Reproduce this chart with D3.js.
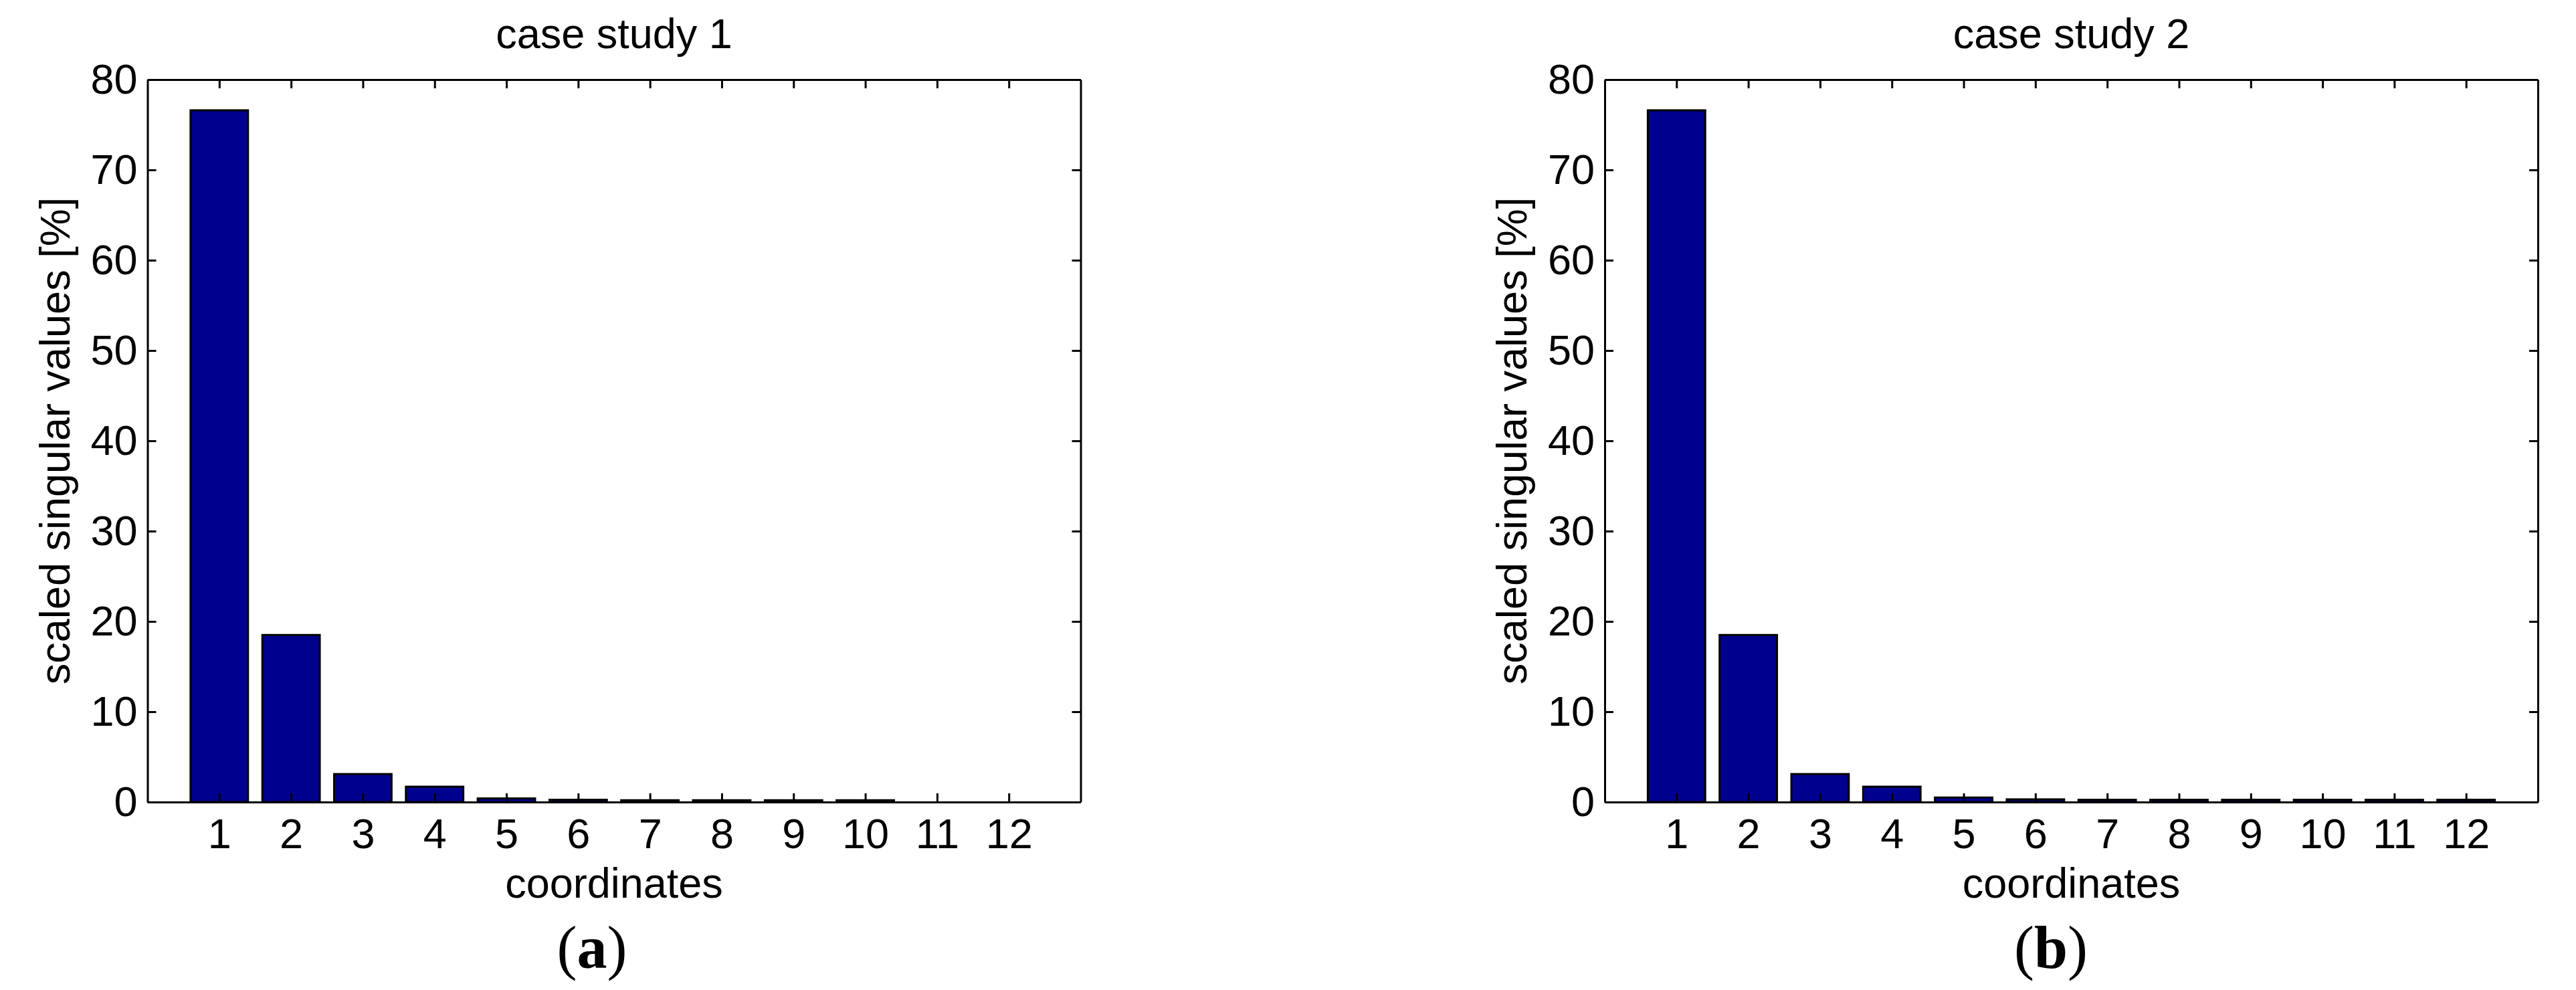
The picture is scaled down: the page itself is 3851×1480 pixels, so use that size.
<!DOCTYPE html>
<html>
<head>
    <meta charset="utf-8">
    <script src="https://d3js.org/d3.v7.min.js"></script>
    <style>
        body { margin: 0; background: #fff; }
        text { font-family: "Liberation Sans", Arial, sans-serif; fill: #000; }
        .panel-letter { font-family: "Liberation Serif", "Times New Roman", serif; }
    </style>
</head>
<body>
<script type="text/javascript">
    "use strict";

    // data
    var coordinates = [1, 2, 3, 4, 5, 6, 7, 8, 9, 10, 11, 12];
    var caseStudy1 = [76.6, 18.5, 3.1, 1.7, 0.4, 0.25, 0.2, 0.2, 0.2, 0.2, 0, 0];
    var caseStudy2 = [76.6, 18.5, 3.1, 1.7, 0.5, 0.3, 0.25, 0.25, 0.25, 0.25, 0.25, 0.25];
    var yTicks = [0, 10, 20, 30, 40, 50, 60, 70, 80];

    var W = 3851, H = 1480;
    var svg = d3.select("body").append("svg")
        .attr("width", W)
        .attr("height", H);

    function drawPanel(values, title, letter, left, letterX) {
        var right = left + 1395,
            top = 119,
            bottom = 1199,
            fontSize = 63;

        var x = d3.scaleLinear().domain([0, coordinates.length + 1]).range([left, right]);
        var y = d3.scaleLinear().domain([0, 80]).range([bottom, top]);
        var barW = x(0.8) - x(0);

        var g = svg.append("g");

        // bars
        g.selectAll("rect.bar")
            .data(values)
            .enter().append("rect")
            .attr("class", "bar")
            .attr("x", function(d, i) { return x(coordinates[i]) - barW / 2; })
            .attr("y", function(d) { return y(d); })
            .attr("width", barW)
            .attr("height", function(d) { return y(0) - y(d); })
            .style("fill", "#00008f")
            .style("stroke", "#000")
            .style("stroke-width", 3);

        // axes, ticks pointing inwards on all four sides
        var bottomAxis = d3.axisBottom(x).tickValues(coordinates).tickFormat(d3.format("d"))
            .tickSizeInner(-13).tickSizeOuter(0).tickPadding(24);
        var topAxis = d3.axisTop(x).tickValues(coordinates).tickFormat("")
            .tickSizeInner(-13).tickSizeOuter(0);
        var leftAxis = d3.axisLeft(y).tickValues(yTicks).tickFormat(d3.format("d"))
            .tickSizeInner(-13).tickSizeOuter(0).tickPadding(15);
        var rightAxis = d3.axisRight(y).tickValues(yTicks).tickFormat("")
            .tickSizeInner(-13).tickSizeOuter(0);

        var axes = [
            [bottomAxis, "translate(0," + bottom + ")"],
            [topAxis, "translate(0," + top + ")"],
            [leftAxis, "translate(" + left + ",0)"],
            [rightAxis, "translate(" + right + ",0)"]
        ];
        axes.forEach(function(a) {
            var ax = g.append("g")
                .attr("transform", a[1])
                .call(a[0])
                .attr("font-family", null)
                .attr("font-size", null);
            ax.selectAll("path, line")
                .style("stroke", "#000")
                .style("stroke-width", 3);
            ax.selectAll("text")
                .style("font-size", fontSize + "px");
        });

        // titles
        g.append("text")
            .attr("x", (left + right) / 2)
            .attr("y", 72)
            .attr("text-anchor", "middle")
            .style("font-size", fontSize + "px")
            .text(title);

        g.append("text")
            .attr("x", (left + right) / 2)
            .attr("y", 1342)
            .attr("text-anchor", "middle")
            .style("font-size", fontSize + "px")
            .text("coordinates");

        g.append("text")
            .attr("transform", "translate(" + (left - 117) + "," + ((top + bottom) / 2) + ") rotate(-90)")
            .attr("text-anchor", "middle")
            .style("font-size", fontSize + "px")
            .text("scaled singular values [%]");

        var lt = g.append("text")
            .attr("class", "panel-letter")
            .attr("x", letterX)
            .attr("y", 1447)
            .attr("text-anchor", "middle")
            .style("font-size", "90px");
        lt.append("tspan").text("(");
        lt.append("tspan").style("font-weight", "bold").text(letter);
        lt.append("tspan").text(")");
    }

    drawPanel(caseStudy1, "case study 1", "a", 220.5, 885);
    drawPanel(caseStudy2, "case study 2", "b", 2399, 3066);
</script>
</body>
</html>
